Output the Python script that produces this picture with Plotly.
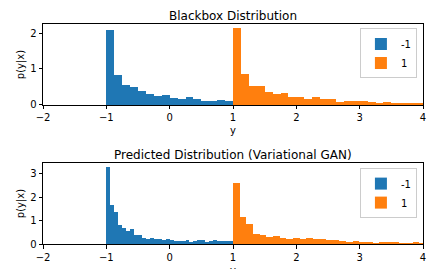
import plotly.graph_objects as go
from plotly.subplots import make_subplots

# ---- data (bin heights) ----
top_blue_start = -1.0
top_blue_width = 0.125
top_blue = [2.08, 0.83, 0.56, 0.50, 0.39, 0.31, 0.25, 0.28,
            0.19, 0.17, 0.22, 0.17, 0.11, 0.11, 0.14, 0.11]

top_orange_start = 1.0
top_orange_width = 0.125
top_orange = [2.14, 0.86, 0.53, 0.53, 0.36, 0.31, 0.33, 0.22,
              0.22, 0.17, 0.22, 0.17, 0.17, 0.08, 0.11, 0.11,
              0.11, 0.08, 0.06, 0.08, 0.06, 0.06, 0.06, 0.06]

bot_blue_start = -1.0
bot_blue_width = 0.0625
bot_blue = [3.30, 1.67, 1.37, 0.81, 0.69, 0.56, 0.64, 0.39,
            0.39, 0.26, 0.21, 0.26, 0.21, 0.21, 0.17, 0.21,
            0.17, 0.13, 0.13, 0.13, 0.17, 0.09, 0.13, 0.17,
            0.17, 0.09, 0.13, 0.17, 0.13, 0.13, 0.13, 0.13]

bot_orange_start = 1.0
bot_orange_width = 0.105
bot_orange = [2.61, 1.16, 0.86, 0.43, 0.39, 0.30, 0.34, 0.26,
              0.21, 0.26, 0.21, 0.26, 0.21, 0.21, 0.17, 0.17,
              0.13, 0.09, 0.13, 0.09, 0.09, 0.04, 0.09, 0.09,
              0.09, 0.04, 0.04, 0.09, 0.04]

titles = ["Blackbox Distribution", "Predicted Distribution (Variational GAN)"]
labels = ["-1", "1"]
x_ticks = [-2, -1, 0, 1, 2, 3, 4]

BLUE = "#1f77b4"
ORANGE = "#ff7f0e"
FONT = "DejaVu Sans"


def edges(start, width, n):
    return [start + i * width for i in range(n)]


fig = make_subplots(rows=2, cols=1, vertical_spacing=0.264,
                    subplot_titles=titles)

series = [
    (1, top_blue, top_blue_start, top_blue_width, BLUE, labels[0], "legend"),
    (1, top_orange, top_orange_start, top_orange_width, ORANGE, labels[1], "legend"),
    (2, bot_blue, bot_blue_start, bot_blue_width, BLUE, labels[0], "legend2"),
    (2, bot_orange, bot_orange_start, bot_orange_width, ORANGE, labels[1], "legend2"),
]
for row, vals, start, width, color, name, leg in series:
    fig.add_trace(go.Bar(
        x=edges(start, width, len(vals)), y=vals, width=width, offset=0,
        marker=dict(color=color, line=dict(width=0)), name=name,
        legend=leg, showlegend=True), row=row, col=1)

axis_common = dict(showline=True, linecolor="black", linewidth=1, mirror=True,
                   ticks="outside", ticklen=3.5, tickcolor="black",
                   showgrid=False, zeroline=False, automargin=False,
                   tickfont=dict(family=FONT, size=10, color="black"))

for r, so in ((1, 4), (2, 5)):
    fig.update_xaxes(range=[-2, 4], tickvals=x_ticks, row=r, col=1,
                     title=dict(text="y", font=dict(family=FONT, size=10, color="black"),
                                standoff=so), **axis_common)
fig.update_yaxes(range=[0, 2.25], tickvals=[0, 1, 2], row=1, col=1,
                 title=dict(text="p(y|x)", font=dict(family=FONT, size=10, color="black"),
                            standoff=3), **axis_common)
fig.update_yaxes(range=[0, 3.46], tickvals=[0, 1, 2, 3], row=2, col=1,
                 title=dict(text="p(y|x)", font=dict(family=FONT, size=10, color="black"),
                            standoff=3), **axis_common)

for ann in fig.layout.annotations:
    ann.font = dict(family=FONT, size=12, color="black")
    ann.yshift = -1

legend_style = dict(xanchor="right", yanchor="top", bgcolor="rgba(255,255,255,0.8)",
                    bordercolor="#cccccc", borderwidth=1,
                    font=dict(family=FONT, size=10, color="black"),
                    itemwidth=30, tracegroupgap=0)
# the page body adds an 8px offset; figure size/margins compensate for it
fig.update_layout(
    width=437, height=269,
    margin=dict(l=35, r=22, t=16, b=33, autoexpand=False),
    paper_bgcolor="white", plot_bgcolor="white",
    bargap=0, barmode="overlay",
    font=dict(family=FONT, size=10, color="black"),
    legend=dict(x=0.984, y=0.98, **legend_style),
    legend2=dict(x=0.984, y=0.345, **legend_style),
)

fig.write_html("out.html")
